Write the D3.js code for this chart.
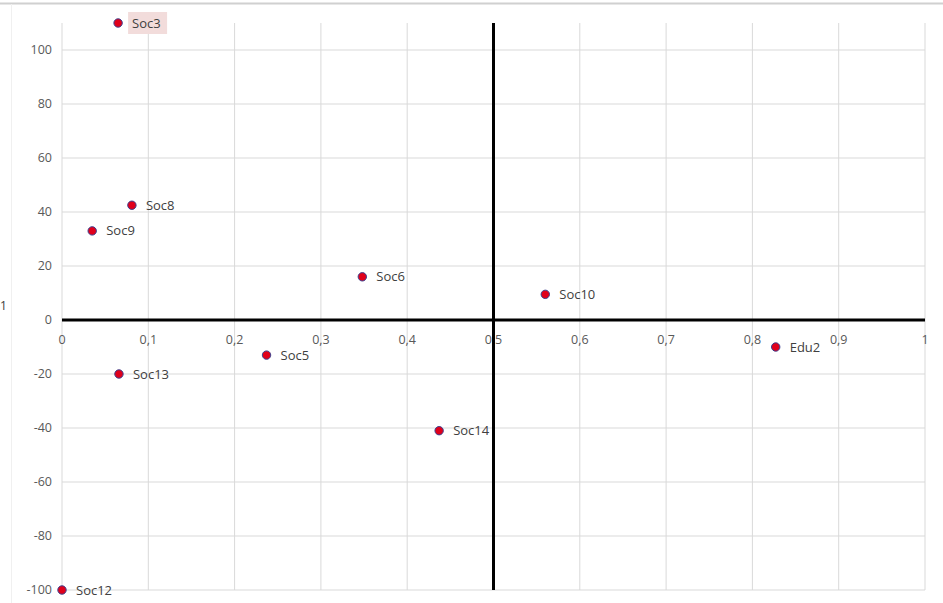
<!DOCTYPE html>
<html>
<head>
<meta charset="utf-8">
<script src="https://cdnjs.cloudflare.com/ajax/libs/d3/7.8.5/d3.min.js"></script>
<style>
  body { margin: 0; background: #fff; }
  text { font-family: "Open Sans", "Liberation Sans", sans-serif; }
</style>
</head>
<body>
<div id="chart"></div>
<script>
const width = 943, height = 603;

// data
const names = ["Soc3", "Soc8", "Soc9", "Soc6", "Soc10", "Edu2", "Soc5", "Soc13", "Soc14", "Soc12"];
const xs    = [0.065, 0.081, 0.035, 0.348, 0.560, 0.827, 0.237, 0.066, 0.437, 0.0];
const ys    = [110, 42.5, 33, 16, 9.5, -10, -13, -20, -41, -100];
const xTicks = [0, 0.1, 0.2, 0.3, 0.4, 0.5, 0.6, 0.7, 0.8, 0.9, 1];
const yTicks = [100, 80, 60, 40, 20, 0, -20, -40, -60, -80, -100];
const highlighted = "Soc3";

const svg = d3.select("#chart").append("svg")
  .attr("width", width).attr("height", height);

// outer frame bits
svg.append("line").attr("x1", 0).attr("x2", width).attr("y1", 3.5).attr("y2", 3.5)
  .attr("stroke", "#d0d0d0").attr("stroke-width", 2);
svg.append("line").attr("x1", 11.5).attr("x2", 11.5).attr("y1", 4).attr("y2", height)
  .attr("stroke", "#f0f0f0");

const x = d3.scaleLinear().domain([0, 1]).range([62, 925]);
const y = d3.scaleLinear().domain([-100, 110]).range([590, 23]);

// grid
svg.append("g").selectAll("line").data(xTicks).join("line")
  .attr("x1", d => x(d)).attr("x2", d => x(d))
  .attr("y1", y(110)).attr("y2", y(-100))
  .attr("stroke", "#d9d9d9").attr("stroke-width", 1);
svg.append("g").selectAll("line").data(yTicks).join("line")
  .attr("x1", x(0)).attr("x2", x(1))
  .attr("y1", d => y(d)).attr("y2", d => y(d))
  .attr("stroke", "#d9d9d9").attr("stroke-width", 1);

// y tick labels
svg.append("g").selectAll("text").data(yTicks).join("text")
  .attr("x", 52).attr("y", d => y(d)).attr("dy", "0.35em")
  .attr("text-anchor", "end").attr("fill", "#595959").attr("font-size", 12.5)
  .text(d => d);

// x tick labels (comma decimal)
const fmt = d => String(d).replace(".", ",");
svg.append("g").selectAll("text").data(xTicks).join("text")
  .attr("x", d => x(d)).attr("y", y(0) + 24)
  .attr("text-anchor", "middle").attr("fill", "#595959").attr("font-size", 12.5)
  .text(fmt);

// black axes through 0 and 0.5
svg.append("line").attr("x1", x(0)).attr("x2", x(1))
  .attr("y1", y(0)).attr("y2", y(0))
  .attr("stroke", "#000").attr("stroke-width", 3);
svg.append("line").attr("x1", x(0.5)).attr("x2", x(0.5))
  .attr("y1", y(110)).attr("y2", y(-100))
  .attr("stroke", "#000").attr("stroke-width", 3);

// axis title remnant at the left edge
svg.append("text").attr("x", 0).attr("y", 310)
  .attr("fill", "#404040").attr("font-size", 12).text("1");

const pts = names.map((n, i) => ({ name: n, x: xs[i], y: ys[i] }));

// highlight box behind selected label
pts.filter(d => d.name === highlighted).forEach(d => {
  svg.append("rect")
    .attr("x", x(d.x) + 10).attr("y", y(d.y) - 11)
    .attr("width", 39).attr("height", 22)
    .attr("fill", "#f2dcdb");
});

svg.append("g").selectAll("circle").data(pts).join("circle")
  .attr("cx", d => x(d.x)).attr("cy", d => y(d.y)).attr("r", 4.2)
  .attr("fill", "#e0001b").attr("stroke", "#3a3f8f").attr("stroke-width", 1);

svg.append("g").selectAll("text").data(pts).join("text")
  .attr("x", d => x(d.x) + 14).attr("y", d => y(d.y)).attr("dy", "0.35em")
  .attr("fill", "#404040").attr("font-size", 13)
  .text(d => d.name);
</script>
</body>
</html>
